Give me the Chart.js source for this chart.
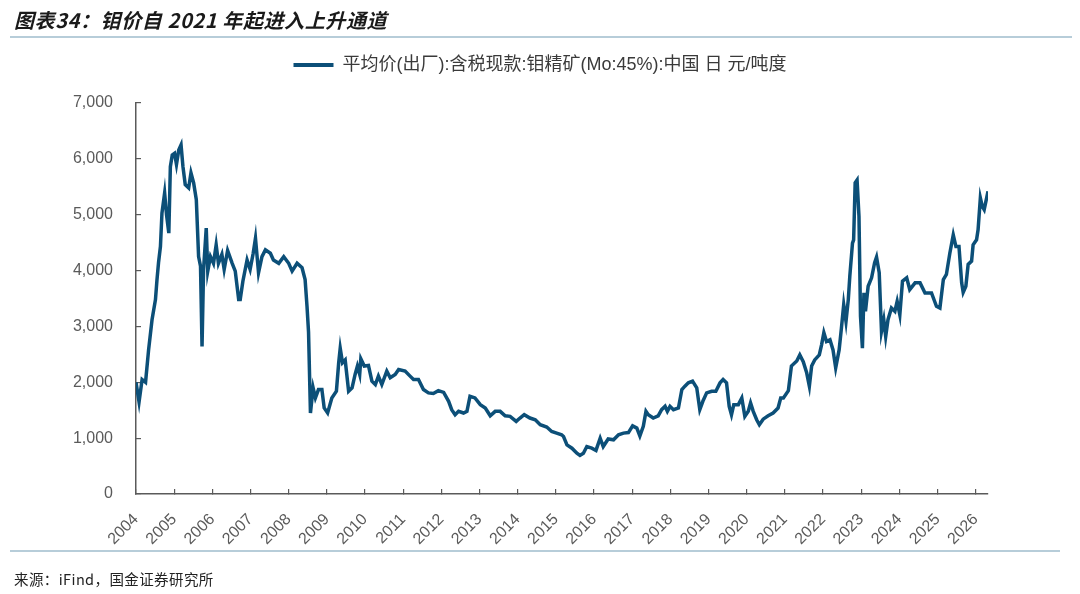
<!DOCTYPE html>
<html>
<head>
<meta charset="utf-8">
<script src="https://cdn.jsdelivr.net/npm/chart.js@4.4.1/dist/chart.umd.min.js"></script>
<style>
    html, body { margin: 0; padding: 0; background: #fff; }
    #page { position: relative; width: 1080px; height: 594px; overflow: hidden; }
    #chart-box { position: absolute; left: 0; top: 0; width: 1080px; height: 594px; }
    .heading {
        position: absolute; left: 14px; top: 5px;
        font: italic bold 20px "Noto Sans CJK SC", sans-serif;
        color: #1a1a1a; letter-spacing: 0.6px;
    }
    .rule { position: absolute; left: 10px; height: 1.5px; background: #b7cdd9; }
    .source {
        position: absolute; left: 14px; top: 568px;
        font: 14.5px "Noto Sans CJK SC", sans-serif; color: #222; letter-spacing: 0.4px;
    }
</style>
</head>
<body>
<div id="page">
    <div id="chart-box"><canvas id="moly-chart"></canvas></div>
    <div class="heading">图表34：钼价自 2021 年起进入上升通道</div>
    <div class="rule" style="top:36px; width:1062px;"></div>
    <div class="rule" style="top:550px; width:1050px;"></div>
    <div class="source">来源：iFind，国金证券研究所</div>
</div>

<script>
const seriesLabel = "平均价(出厂):含税现款:钼精矿(Mo:45%):中国 日 元/吨度";

// decimal year of each reading
const dates = [
    2004.00, 2004.08, 2004.16, 2004.25, 2004.33, 2004.42, 2004.51, 2004.55, 2004.59, 2004.64,
    2004.68, 2004.75, 2004.80, 2004.86, 2004.90, 2004.95, 2005.01, 2005.06, 2005.12, 2005.18,
    2005.23, 2005.29, 2005.38, 2005.44, 2005.51, 2005.58, 2005.64, 2005.69, 2005.73, 2005.77,
    2005.84, 2005.88, 2005.95, 2006.03, 2006.10, 2006.16, 2006.25, 2006.31, 2006.40, 2006.52,
    2006.60, 2006.69, 2006.73, 2006.80, 2006.91, 2006.99, 2007.07, 2007.13, 2007.21, 2007.30,
    2007.39, 2007.52, 2007.60, 2007.74, 2007.87, 2008.00, 2008.09, 2008.22, 2008.35, 2008.43,
    2008.48, 2008.52, 2008.57, 2008.64, 2008.70, 2008.78, 2008.87, 2008.93, 2009.02, 2009.13,
    2009.25, 2009.31, 2009.35, 2009.41, 2009.48, 2009.57, 2009.66, 2009.74, 2009.80, 2009.86,
    2009.89, 2009.98, 2010.09, 2010.18, 2010.27, 2010.35, 2010.44, 2010.57, 2010.66, 2010.79,
    2010.88, 2011.05, 2011.18, 2011.27, 2011.40, 2011.53, 2011.66, 2011.79, 2011.92, 2012.06,
    2012.19, 2012.27, 2012.36, 2012.45, 2012.58, 2012.67, 2012.75, 2012.88, 2013.02, 2013.15,
    2013.28, 2013.41, 2013.54, 2013.67, 2013.80, 2013.96, 2014.06, 2014.17, 2014.32, 2014.46,
    2014.59, 2014.76, 2014.89, 2015.02, 2015.15, 2015.20, 2015.29, 2015.42, 2015.55, 2015.63,
    2015.72, 2015.81, 2015.94, 2016.05, 2016.16, 2016.24, 2016.37, 2016.51, 2016.64, 2016.77,
    2016.90, 2017.01, 2017.12, 2017.20, 2017.29, 2017.36, 2017.42, 2017.55, 2017.68, 2017.77,
    2017.86, 2017.92, 2017.99, 2018.08, 2018.21, 2018.30, 2018.38, 2018.47, 2018.58, 2018.69,
    2018.77, 2018.85, 2018.95, 2019.08, 2019.19, 2019.30, 2019.38, 2019.47, 2019.54, 2019.60,
    2019.66, 2019.78, 2019.87, 2019.95, 2020.04, 2020.10, 2020.17, 2020.26, 2020.33, 2020.43,
    2020.56, 2020.69, 2020.82, 2020.89, 2020.96, 2021.09, 2021.17, 2021.31, 2021.39, 2021.48,
    2021.57, 2021.64, 2021.70, 2021.78, 2021.90, 2021.96, 2022.02, 2022.09, 2022.18, 2022.26,
    2022.33, 2022.42, 2022.48, 2022.54, 2022.60, 2022.66, 2022.70, 2022.77, 2022.80, 2022.84,
    2022.89, 2022.94, 2022.98, 2023.03, 2023.07, 2023.11, 2023.18, 2023.27, 2023.35, 2023.40,
    2023.47, 2023.53, 2023.59, 2023.64, 2023.70, 2023.79, 2023.88, 2023.94, 2024.01, 2024.08,
    2024.19, 2024.27, 2024.41, 2024.54, 2024.67, 2024.84, 2024.97, 2025.06, 2025.15, 2025.23,
    2025.32, 2025.41, 2025.48, 2025.56, 2025.63, 2025.67, 2025.74, 2025.80, 2025.89, 2025.93,
    2026.02, 2026.06, 2026.12, 2026.17, 2026.22, 2026.32
];

// 元/吨度
const prices = [
    2000, 1650, 2050, 2000, 2580, 3120, 3480, 3840, 4140, 4430,
    5030, 5390, 5000, 4670, 5860, 6070, 6100, 5900, 6160, 6250,
    5860, 5540, 5480, 5750, 5570, 5270, 4250, 4080, 2640, 4020,
    4760, 3990, 4250, 4130, 4460, 4130, 4290, 4020, 4360, 4130,
    3990, 3480, 3480, 3810, 4190, 4020, 4310, 4580, 3960, 4250,
    4370, 4310, 4190, 4130, 4250, 4130, 3990, 4130, 4050, 3840,
    3360, 2900, 1450, 1900, 1720, 1870, 1870, 1540, 1450, 1720,
    1840, 2350, 2610, 2350, 2400, 1840, 1900, 2140, 2290, 2140,
    2420, 2290, 2300, 2020, 1960, 2110, 1960, 2200, 2080, 2140,
    2230, 2200, 2110, 2050, 2050, 1870, 1810, 1800, 1850, 1820,
    1660, 1510, 1420, 1480, 1450, 1480, 1750, 1720, 1600, 1540,
    1400, 1480, 1480, 1400, 1390, 1300, 1360, 1420, 1360, 1330,
    1240, 1200, 1120, 1090, 1060, 1030, 880, 820, 730, 690,
    730, 850, 820, 780, 1000, 850, 985, 970, 1060, 1090,
    1100, 1220, 1180, 1040, 1210, 1480, 1420, 1360, 1400, 1510,
    1570, 1480, 1570, 1510, 1540, 1870, 1930, 1990, 2020, 1900,
    1510, 1660, 1810, 1840, 1840, 1990, 2050, 1990, 1570, 1420,
    1600, 1600, 1720, 1390, 1480, 1630, 1480, 1330, 1240, 1340,
    1400, 1450, 1540, 1720, 1720, 1850, 2290, 2380, 2490, 2370,
    2170, 1930, 2290, 2400, 2490, 2670, 2890, 2730, 2760, 2580,
    2260, 2580, 2970, 3390, 3090, 3480, 3900, 4490, 4550, 5570,
    5620, 4970, 3180, 2610, 3600, 3270, 3720, 3870, 4140, 4240,
    3960, 2910, 3120, 2820, 3120, 3330, 3270, 3450, 3210, 3810,
    3870, 3660, 3780, 3780, 3600, 3600, 3360, 3330, 3840, 3930,
    4310, 4640, 4430, 4430, 3780, 3610, 3720, 4110, 4170, 4460,
    4550, 4730, 5300, 5150, 5090, 5420
];

const yearTicks = [
    2004, 2005, 2006, 2007, 2008, 2009, 2010, 2011, 2012, 2013, 2014, 2015,
    2016, 2017, 2018, 2019, 2020, 2021, 2022, 2023, 2024, 2025, 2026
];
const priceTicks = [0, 1000, 2000, 3000, 4000, 5000, 6000, 7000];

const lineColor = '#0c4f78';
const axisColor = '#5a5a5a';
const tickFont = { family: '"Liberation Sans", Arial, sans-serif', size: 16 };

// empty boxes used only to push the plot area into place
function spacerScale(position, size) {
    return {
        type: 'linear',
        position: position,
        display: true,
        afterFit: scale => {
            if (position === 'top') scale.height = size;
            else scale.width = size;
        },
        grid: { display: false },
        border: { display: false },
        ticks: { display: false }
    };
}

document.addEventListener('DOMContentLoaded', function() {
    const ctx = document.getElementById('moly-chart');

    new Chart(ctx, {
        type: 'line',
        data: {
            datasets: [
                {
                    label: seriesLabel,
                    data: dates.map((d, i) => ({ x: d, y: prices[i] })),
                    borderColor: lineColor,
                    backgroundColor: lineColor,
                    borderWidth: 3.5,
                    pointRadius: 0,
                    tension: 0
                }
            ]
        },
        options: {
            responsive: true,
            maintainAspectRatio: false,
            animation: false,
            layout: { padding: { top: 46, left: 10, right: 10, bottom: 40 } },
            plugins: {
                legend: {
                    position: 'top',
                    labels: {
                        boxWidth: 40,
                        boxHeight: 4,
                        padding: 10,
                        color: '#3a3a3a',
                        font: { family: '"Liberation Sans", "Noto Sans CJK SC", sans-serif', size: 18 },
                        generateLabels: chart =>
                            Chart.defaults.plugins.legend.labels.generateLabels(chart)
                                .map(item => Object.assign(item, { lineWidth: 0 }))
                    }
                },
                tooltip: { enabled: false }
            },
            scales: {
                x: {
                    type: 'linear',
                    min: 2004,
                    max: dates[dates.length - 1],
                    afterBuildTicks: scale => {
                        scale.ticks = yearTicks.map(v => ({ value: v }));
                    },
                    afterFit: scale => { scale.height = 60; },
                    grid: { drawOnChartArea: false, tickLength: -5, color: axisColor, lineWidth: 1.2 },
                    border: { display: true, color: axisColor, width: 1.5 },
                    ticks: {
                        autoSkip: false,
                        minRotation: 45,
                        maxRotation: 45,
                        padding: 21,
                        color: axisColor,
                        font: tickFont,
                        callback: value => String(value)
                    }
                },
                gapTop: spacerScale('top', 19),
                gapRight: spacerScale('right', 82),
                y: {
                    min: 0,
                    max: 7000,
                    afterBuildTicks: scale => {
                        scale.ticks = priceTicks.map(v => ({ value: v }));
                    },
                    afterFit: scale => { scale.width = 126; },
                    grid: { drawOnChartArea: false, tickLength: -5, color: axisColor, lineWidth: 1.2 },
                    border: { display: true, color: axisColor, width: 1.5 },
                    ticks: {
                        padding: 28,
                        color: axisColor,
                        font: tickFont,
                        callback: value => value.toLocaleString('en-US')
                    }
                }
            }
        }
    });
});
</script>
</body>
</html>
